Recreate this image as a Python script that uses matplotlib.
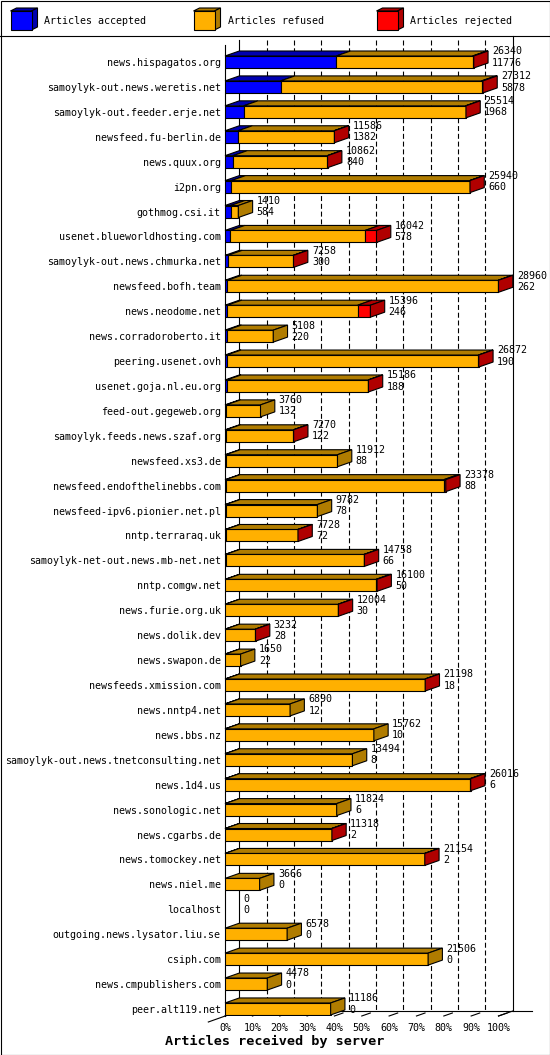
import matplotlib
matplotlib.use("Agg")
import matplotlib.pyplot as plt
from matplotlib.patches import Polygon, Rectangle
from matplotlib.transforms import Affine2D
import numpy as np

##====================== data =============
hosts = ["news.hispagatos.org", "samoylyk-out.news.weretis.net", "samoylyk-out.feeder.erje.net",
         "newsfeed.fu-berlin.de", "news.quux.org", "i2pn.org", "gothmog.csi.it",
         "usenet.blueworldhosting.com", "samoylyk-out.news.chmurka.net", "newsfeed.bofh.team",
         "news.neodome.net", "news.corradoroberto.it", "peering.usenet.ovh",
         "usenet.goja.nl.eu.org", "feed-out.gegeweb.org", "samoylyk.feeds.news.szaf.org",
         "newsfeed.xs3.de", "newsfeed.endofthelinebbs.com", "newsfeed-ipv6.pionier.net.pl",
         "nntp.terraraq.uk", "samoylyk-net-out.news.mb-net.net", "nntp.comgw.net",
         "news.furie.org.uk", "news.dolik.dev", "news.swapon.de", "newsfeeds.xmission.com",
         "news.nntp4.net", "news.bbs.nz", "samoylyk-out.news.tnetconsulting.net", "news.1d4.us",
         "news.sonologic.net", "news.cgarbs.de", "news.tomockey.net", "news.niel.me",
         "localhost", "outgoing.news.lysator.liu.se", "csiph.com", "news.cmpublishers.com",
         "peer.alt119.net"]

total = [26340, 27312, 25514, 11586, 10862, 25940, 1410, 16042, 7258, 28960,
         15396, 5108, 26872, 15186, 3760, 7270, 11912, 23378, 9782, 7728,
         14758, 16100, 12004, 3232, 1650, 21198, 6890, 15762, 13494, 26016,
         11824, 11318, 21154, 3666, 0, 6578, 21506, 4478, 11186]

accepted = [11776, 5878, 1968, 1382, 840, 660, 584, 578, 300, 262,
            246, 220, 190, 188, 132, 122, 88, 88, 78, 72,
            66, 50, 30, 28, 22, 18, 12, 10, 8, 6,
            6, 2, 2, 0, 0, 0, 0, 0, 0]

# estimated from the red part of each bar
rejected = [120, 150, 40, 40, 40, 40, 0, 1210, 30, 30,
            1350, 0, 30, 30, 0, 30, 0, 200, 0, 20,
            30, 100, 20, 20, 0, 20, 0, 0, 0, 80,
            0, 20, 20, 0, 0, 0, 0, 0, 0]

series_names = ["Articles accepted", "Articles refused", "Articles rejected"]
front_colors = ["#0000ff", "#ffb000", "#ff0000"]
dark_colors = ["#0000b0", "#b07c00", "#b00000"]

##====================== layout (pixels) =============
W, H = 550, 1055
X0, X100 = 225, 498.5          # front plane 0% / 100%
Y_TOP, Y_BOT = 45, 1016         # front plane top / bottom
ROW0, ROWSTEP = 62, 24.92       # first row centre, row spacing
DEPTH_X, DEPTH_Y = 14.3, 5      # 3d offset
BAR_H = 12

px_per_pct = (X100 - X0) / 100
dx = DEPTH_X / px_per_pct
dy = DEPTH_Y / ROWSTEP
bh = BAR_H / ROWSTEP

mono = "DejaVu Sans Mono"
fs = 7.2

fig = plt.figure(figsize=(W / 100, H / 100), dpi=100)
ax = fig.add_axes([X0 / W, (H - Y_BOT) / H, (X100 - X0) / W, (Y_BOT - Y_TOP) / H])
px = Affine2D().scale(1 / W, -1 / H).translate(0, 1) + fig.transFigure

y_top = (Y_TOP - ROW0) / ROWSTEP
y_bot = (Y_BOT - ROW0) / ROWSTEP
ax.set_xlim(0, 100)
ax.set_ylim(y_bot, y_top)

n = len(hosts)
rows = np.arange(n)
tot = np.array(total, dtype=float)
acc = np.array(accepted, dtype=float)
rej = np.array(rejected, dtype=float)
ref = tot - acc - rej
scale = 100.0 / tot.max()
segs = [acc * scale, ref * scale, rej * scale]

# back wall
y_back_bot = y_bot - dy
y_sep = (36 - ROW0) / ROWSTEP
ax.plot([dx, dx], [y_top - dy, y_back_bot], color="black", lw=0.8, clip_on=False, zorder=1)
ax.plot([100 + dx, 100 + dx], [y_sep, y_back_bot], color="black", lw=0.8, clip_on=False, zorder=1)
for p in range(10, 100, 10):
    ax.plot([p + dx, p + dx], [y_top - dy, y_back_bot], color="black", lw=0.8,
            ls=(0, (4.5, 2.5)), clip_on=False, zorder=1)

# floor
ax.plot([dx, 100 + dx + 7], [y_back_bot, y_back_bot], color="black", lw=0.8, clip_on=False, zorder=1)
ax.plot([-6.1, dx], [y_bot + 6 / ROWSTEP, y_back_bot], color="black", lw=0.8, clip_on=False, zorder=1)
ax.plot([100, 100 + dx], [y_bot, y_back_bot], color="black", lw=0.8, clip_on=False, zorder=1)
for p in range(0, 110, 10):
    ax.plot([p, p + dx * 0.6], [y_bot, y_bot - dy * 0.6], color="black", lw=0.8,
            clip_on=False, zorder=1)

##====================== bars =============
for i in rows:
    left = 0.0
    last = None
    top = i - bh / 2
    for k in range(3):
        w = segs[k][i]
        if w <= 0:
            continue
        ax.barh(i, w, left=left, height=bh, color=front_colors[k], edgecolor="black",
                linewidth=0.8, zorder=3)
        ax.add_patch(Polygon([(left, top), (left + w, top), (left + w + dx, top - dy),
                              (left + dx, top - dy)], closed=True, facecolor=dark_colors[k],
                             edgecolor="black", lw=0.8, zorder=3, clip_on=False))
        left += w
        last = k
    if last is not None:
        ax.add_patch(Polygon([(left, top), (left + dx, top - dy), (left + dx, top + bh - dy),
                              (left, top + bh)], closed=True, facecolor=dark_colors[last],
                             edgecolor="black", lw=0.8, zorder=3, clip_on=False))
    ax.text(left + dx + 4 / px_per_pct, i - 0.2, f"{total[i]}\n{accepted[i]}",
            ha="left", va="center", fontsize=fs, family=mono, linespacing=1.15,
            zorder=4, clip_on=False)

ax.set_yticks(rows, labels=hosts, family=mono, fontsize=fs)
ax.set_xticks(range(0, 101, 10), labels=[f"{p}%" for p in range(0, 101, 10)],
              family=mono, fontsize=fs)
ax.tick_params(axis="y", length=0, pad=3)
ax.tick_params(axis="x", length=0, pad=5)
for s in ["top", "right", "bottom"]:
    ax.spines[s].set_visible(False)
ax.spines["left"].set_linewidth(0.8)
ax.patch.set_visible(False)

fig.text(274.5 / W, 1 - 1041 / H, "Articles received by server", ha="center", va="center",
         family=mono, fontsize=9.7, fontweight="bold")

##====================== legend + frame =============
leg_x = [10.5, 193.5, 376.5]
for k in range(3):
    x, y = leg_x[k], 11
    fig.add_artist(Polygon([(x, y), (x + 6, y - 3), (x + 27, y - 3), (x + 21, y)],
                           closed=True, facecolor=dark_colors[k], edgecolor="black",
                           lw=0.8, transform=px))
    fig.add_artist(Polygon([(x + 21, y), (x + 27, y - 3), (x + 27, y + 16), (x + 21, y + 19)],
                           closed=True, facecolor=dark_colors[k], edgecolor="black",
                           lw=0.8, transform=px))
    fig.add_artist(Rectangle((x, y), 21, 19, facecolor=front_colors[k], edgecolor="black",
                             lw=0.8, transform=px))
    fig.text((x + 34) / W, 1 - 20.5 / H, series_names[k], ha="left", va="center",
             family=mono, fontsize=fs)

fig.add_artist(plt.Line2D([0, W], [36, 36], color="black", lw=0.8, transform=px))
fig.add_artist(Rectangle((0.5, 0.5), W - 1, H - 1, fill=False, edgecolor="black",
                         lw=0.8, transform=px))

fig.savefig("out.png", dpi=100)
